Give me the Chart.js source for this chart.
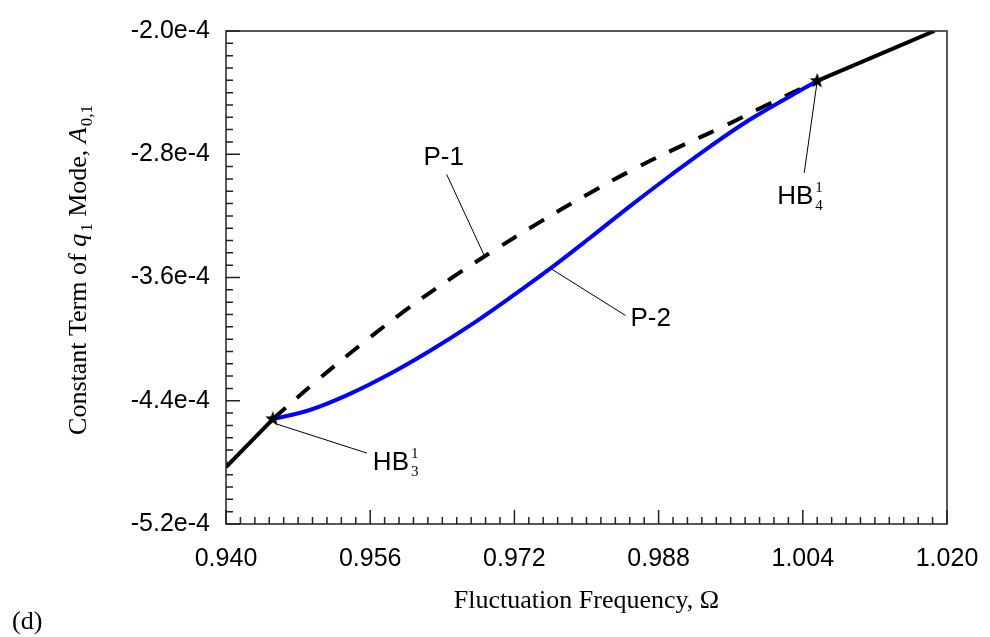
<!DOCTYPE html>
<html>
<head>
<meta charset="utf-8">
<script src="https://cdn.jsdelivr.net/npm/chart.js@4.4.1/dist/chart.umd.min.js"></script>
<style>
  body { margin: 0; background: #fff; }
  #wrap { width: 990px; height: 637px; }
</style>
</head>
<body>
<div id="wrap"><canvas id="chart" width="990" height="637"></canvas></div>
<script>
// stable branches, solid black
const freqLow = [0.9400, 0.9452];
const ampLow = [-4.831e-4, -4.519e-4];
const freqHigh = [1.0056, 1.0186];
const ampHigh = [-2.324e-4, -2.000e-4];

// P-1 branch (dashed)
const freqP1 = [0.9452, 0.9500, 0.9550, 0.9600, 0.9650, 0.9700, 0.9750, 0.9800, 0.9850, 0.9900, 0.9950, 1.0000, 1.0056];
const ampP1 = [-4.519e-4, -4.274e-4, -4.034e-4, -3.809e-4, -3.604e-4, -3.414e-4, -3.234e-4, -3.064e-4, -2.904e-4, -2.760e-4, -2.625e-4, -2.480e-4, -2.324e-4];

// P-2 branch (blue)
const freqP2 = [0.9452, 0.9493, 0.9538, 0.9582, 0.9626, 0.9671, 0.9715, 0.9760, 0.9804, 0.9848, 0.9893, 0.9937, 0.9981, 1.0026, 1.0056];
const ampP2 = [-4.519e-4, -4.460e-4, -4.354e-4, -4.225e-4, -4.077e-4, -3.911e-4, -3.732e-4, -3.541e-4, -3.342e-4, -3.138e-4, -2.938e-4, -2.750e-4, -2.576e-4, -2.423e-4, -2.324e-4];

// Hopf bifurcation points HB3, HB4
const hbFreq = [0.9452, 1.0056];
const hbAmp = [-4.519e-4, -2.324e-4];
const hbIndex = ['3', '4'];

// where the P-1 / P-2 leaders touch the curves
const labelFreq = [0.9687, 0.9760];
const labelAmp = [-3.463e-4, -3.541e-4];
const labelText = ['P-1', 'P-2'];

const xTicks = [0.940, 0.956, 0.972, 0.988, 1.004, 1.020];
const xTickLabels = ['0.940', '0.956', '0.972', '0.988', '1.004', '1.020'];
const yTicks = [-5.2e-4, -4.4e-4, -3.6e-4, -2.8e-4, -2.0e-4];
const yTickLabels = ['-5.2e-4', '-4.4e-4', '-3.6e-4', '-2.8e-4', '-2.0e-4'];

const pts = (xs, ys) => xs.map((x, i) => ({x: x, y: ys[i]}));

const SANS = '"Liberation Sans", Arial, sans-serif';
const SERIF = '"Liberation Serif", "Times New Roman", serif';

// filled five point star for the HB markers
function makeStar(r) {
  const c = document.createElement('canvas');
  c.width = c.height = 2 * r + 2;
  const g = c.getContext('2d');
  g.fillStyle = '#000';
  g.beginPath();
  for (let k = 0; k < 10; k++) {
    const a = -Math.PI / 2 + k * Math.PI / 5;
    const rr = k % 2 ? r * 0.42 : r;
    g.lineTo(r + 1 + rr * Math.cos(a), r + 1 + rr * Math.sin(a));
  }
  g.closePath();
  g.fill();
  return c;
}

// draws a run of text pieces with their own fonts, starting at x (baseline y)
function drawRich(ctx, parts, x, y, center) {
  let total = 0;
  parts.forEach(p => { ctx.font = p.font; total += ctx.measureText(p.t).width + (p.gap || 0); });
  let cx = center ? x - total / 2 : x;
  parts.forEach(p => {
    ctx.font = p.font;
    ctx.fillText(p.t, cx + (p.gap || 0), y + (p.dy || 0));
    cx += ctx.measureText(p.t).width + (p.gap || 0);
  });
}

const framePlugin = {
  id: 'frame',
  afterDatasetsDraw(chart) {
    const ctx = chart.ctx, a = chart.chartArea;
    const xs = chart.scales.x, ys = chart.scales.y;
    ctx.save();
    ctx.strokeStyle = '#222';
    ctx.lineWidth = 1.5;
    ctx.strokeRect(a.left, a.top, a.right - a.left, a.bottom - a.top);
    // inward ticks, 10 minor steps per major
    ctx.beginPath();
    for (let i = 0; i <= 50; i++) {
      const px = xs.getPixelForValue(0.940 + i * 0.0016);
      const len = i % 10 === 0 ? 14 : 7;
      ctx.moveTo(px, a.bottom);
      ctx.lineTo(px, a.bottom - len);
    }
    for (let i = 0; i <= 40; i++) {
      const py = ys.getPixelForValue(-5.2e-4 + i * 0.08e-4);
      const len = i % 10 === 0 ? 14 : 7;
      ctx.moveTo(a.left, py);
      ctx.lineTo(a.left + len, py);
    }
    ctx.stroke();
    ctx.restore();
  },
  afterDraw(chart) {
    const ctx = chart.ctx, a = chart.chartArea;
    const xs = chart.scales.x, ys = chart.scales.y;
    ctx.save();
    ctx.fillStyle = '#000';
    ctx.strokeStyle = '#000';
    ctx.lineWidth = 1;

    // P-1 and P-2 leaders
    const lead = [[-38, -82, -41, -99], [75, 47, 80, 50]];
    labelText.forEach((t, i) => {
      const px = xs.getPixelForValue(labelFreq[i]), py = ys.getPixelForValue(labelAmp[i]);
      const o = lead[i];
      ctx.beginPath();
      ctx.moveTo(px, py);
      ctx.lineTo(px + o[0], py + o[1]);
      ctx.stroke();
      ctx.font = '26px ' + SANS;
      ctx.textBaseline = 'middle';
      ctx.textAlign = i === 0 ? 'center' : 'left';
      ctx.fillText(t, px + o[2], py + o[3]);
    });

    // HB labels
    const hbLead = [[4, 5, 94, 34, 100, 51], [0, 0, -13, 92, -40, 123]];
    ctx.textAlign = 'left';
    ctx.textBaseline = 'alphabetic';
    hbFreq.forEach((f, i) => {
      const px = xs.getPixelForValue(f), py = ys.getPixelForValue(hbAmp[i]);
      const o = hbLead[i];
      ctx.beginPath();
      ctx.moveTo(px + o[0], py + o[1]);
      ctx.lineTo(px + o[2], py + o[3]);
      ctx.stroke();
      const bx = px + o[4], by = py + o[5];
      ctx.font = '26px ' + SANS;
      ctx.fillText('HB', bx, by);
      const w = ctx.measureText('HB').width;
      ctx.font = '15px ' + SERIF;
      ctx.fillText('1', bx + w + 2, by - 12);
      ctx.fillText(hbIndex[i], bx + w + 2, by + 6);
    });

    // axis titles
    const reg = '26px ' + SERIF, ita = 'italic 26px ' + SERIF, sub = '17px ' + SERIF;
    ctx.textAlign = 'left';
    ctx.textBaseline = 'alphabetic';
    drawRich(ctx, [{t: 'Fluctuation Frequency, \u03A9', font: reg}], (a.left + a.right) / 2, 608, true);
    ctx.save();
    ctx.translate(86, 270);
    ctx.rotate(-Math.PI / 2);
    drawRich(ctx, [
      {t: 'Constant Term of ', font: reg},
      {t: 'q', font: ita},
      {t: '1', font: sub, dy: 6, gap: 2},
      {t: ' Mode, ', font: reg},
      {t: 'A', font: ita},
      {t: '0,1', font: sub, dy: 6, gap: 1}
    ], 0, 0, true);
    ctx.restore();
    ctx.font = reg;
    ctx.fillText('(d)', 12, 629);
    ctx.restore();
  }
};

const starImg = makeStar(8);

new Chart('chart', {
  type: 'scatter',
  data: {
    datasets: [
      {data: pts(hbFreq, hbAmp), pointStyle: starImg, pointRadius: 8, showLine: false},
      {data: pts(freqLow, ampLow), showLine: true, borderColor: '#000', borderWidth: 4, pointRadius: 0},
      {data: pts(freqHigh, ampHigh), showLine: true, borderColor: '#000', borderWidth: 4, pointRadius: 0},
      {data: pts(freqP2, ampP2), showLine: true, borderColor: '#0000ff', borderWidth: 4, pointRadius: 0, tension: 0.4},
      {data: pts(freqP1, ampP1), showLine: true, borderColor: '#000', borderWidth: 4, borderDash: [17, 15], pointRadius: 0, tension: 0.4}
    ]
  },
  options: {
    responsive: false,
    animation: false,
    devicePixelRatio: 1,
    layout: {padding: {top: 21, right: 43, left: 0, bottom: 0}},
    plugins: {legend: {display: false}, tooltip: {enabled: false}},
    scales: {
      x: {
        type: 'linear', min: 0.940, max: 1.020,
        afterBuildTicks: s => { s.ticks = xTicks.map(v => ({value: v})); },
        afterFit: s => { s.height = 113; s.paddingLeft = 0; s.paddingRight = 0; },
        grid: {display: false, drawTicks: false},
        border: {display: false},
        ticks: {
          padding: 20, color: '#000', maxRotation: 0, autoSkip: false,
          font: {family: SANS, size: 25},
          callback: (v, i) => xTickLabels[i]
        }
      },
      y: {
        type: 'linear', min: -5.2e-4, max: -2.0e-4,
        afterBuildTicks: s => { s.ticks = yTicks.map(v => ({value: v})); },
        afterFit: s => { s.width = 226; },
        grid: {display: false, drawTicks: false},
        border: {display: false},
        ticks: {
          padding: 16, color: '#000', autoSkip: false,
          font: {family: SANS, size: 25},
          callback: (v, i) => yTickLabels[i]
        }
      }
    }
  },
  plugins: [framePlugin]
});
</script>
</body>
</html>
